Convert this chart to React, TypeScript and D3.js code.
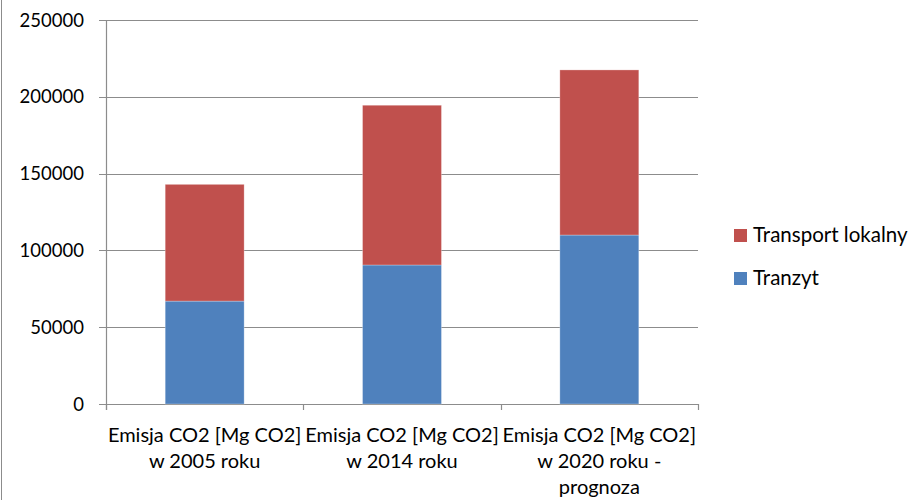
import * as React from "react";
import * as d3 from "d3";

const categories = [
  ["Emisja CO2 [Mg CO2]", "w 2005 roku"],
  ["Emisja CO2 [Mg CO2]", "w 2014 roku"],
  ["Emisja CO2 [Mg CO2]", "w 2020 roku -", "prognoza"],
];
const tranzyt = [67000, 90500, 110000];
const transportLokalny = [76000, 104000, 107500];
const yTicks = [0, 50000, 100000, 150000, 200000, 250000];

const series = [
  { name: "Tranzyt", values: tranzyt, color: "#4F81BD" },
  { name: "Transport lokalny", values: transportLokalny, color: "#C0504D" },
];

const W = 915;
const H = 500;
const margin = { left: 106, right: 217, top: 20, bottom: 96 };
const font = "Lato, 'Open Sans', sans-serif";

export default function App() {
  const x = d3
    .scaleBand<number>()
    .domain(categories.map((_, i) => i))
    .range([margin.left, W - margin.right])
    .padding(0);
  const y = d3.scaleLinear().domain([0, 250000]).range([H - margin.bottom, margin.top]);
  const barW = x.bandwidth() * 0.4;

  const stacked = d3
    .stack<number>()
    .keys(series.map((_, i) => String(i)))
    .value((i, key) => series[+key].values[i])(categories.map((_, i) => i));

  const bandEdges = [...categories.map((_, i) => x(i)!), W - margin.right];

  return (
    <div style={{ position: "fixed", left: 0, top: 0 }}>
      <svg width={W} height={H} style={{ display: "block", background: "#fff" }}>
        <line x1={1.5} x2={1.5} y1={0} y2={H} stroke="#8c8c8c" />
        {yTicks.map((t) => (
          <g key={t}>
            <line
              x1={margin.left - 7}
              x2={W - margin.right}
              y1={Math.round(y(t)) + 0.5}
              y2={Math.round(y(t)) + 0.5}
              stroke="#8c8c8c"
              strokeWidth={1.2}
            />
            <text
              x={margin.left - 22}
              y={y(t)}
              dy="0.36em"
              textAnchor="end"
              fontFamily={font}
              fontSize={18.5}
              fill="#000"
            >
              {t}
            </text>
          </g>
        ))}
        <line
          x1={margin.left + 0.5}
          x2={margin.left + 0.5}
          y1={margin.top}
          y2={y(0) + 6}
          stroke="#8c8c8c"
          strokeWidth={1.2}
        />
        {bandEdges.map((e, i) => (
          <line
            key={i}
            x1={Math.round(e) + 0.5}
            x2={Math.round(e) + 0.5}
            y1={y(0)}
            y2={y(0) + 6}
            stroke="#8c8c8c"
            strokeWidth={1.2}
          />
        ))}
        {stacked.map((layer, si) =>
          layer.map((d, i) => (
            <rect
              key={`${si}-${i}`}
              x={x(i)! + (x.bandwidth() - barW) / 2}
              width={barW}
              y={y(d[1])}
              height={y(d[0]) - y(d[1])}
              fill={series[si].color}
              stroke="rgba(255,255,255,0.35)"
              strokeWidth={0.8}
            />
          ))
        )}
        {categories.map((lines, i) => (
          <text
            key={i}
            x={x(i)! + x.bandwidth() / 2}
            textAnchor="middle"
            fontFamily={font}
            fontSize={20}
            fill="#000"
          >
            {lines.map((l, j) => (
              <tspan key={j} x={x(i)! + x.bandwidth() / 2} y={442 + j * 26}>
                {l}
              </tspan>
            ))}
          </text>
        ))}
        {[...series].reverse().map((s, i) => (
          <g key={s.name} transform={`translate(734,${229 + i * 43})`}>
            <rect width={13} height={13} fill={s.color} />
            <text x={19} y={13} fontFamily={font} fontSize={20.5} fill="#000">
              {s.name}
            </text>
          </g>
        ))}
      </svg>
    </div>
  );
}
